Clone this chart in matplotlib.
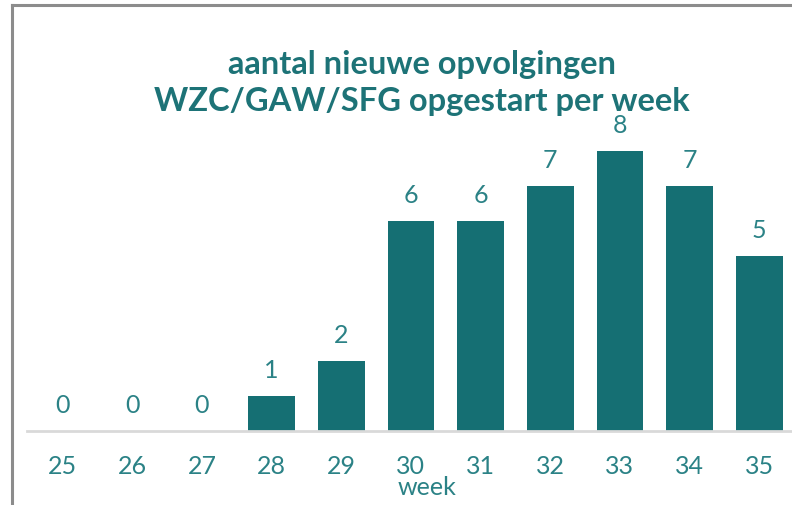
import matplotlib
matplotlib.use("Agg")
import matplotlib.pyplot as plt
from matplotlib.lines import Line2D

weeks = ["25", "26", "27", "28", "29", "30", "31", "32", "33", "34", "35"]
values = [0, 0, 0, 1, 2, 6, 6, 7, 8, 7, 5]
title = "aantal nieuwe opvolgingen\nWZC/GAW/SFG opgestart per week"
xlabel = "week"

bar_color = "#156f73"
text_color = "#2b8286"
title_color = "#1d7377"

plt.rcParams['font.family'] = ['Lato', 'DejaVu Sans']

W, H = 792, 505
fig = plt.figure(figsize=(W / 100, H / 100), dpi=100)
# axes: x from 27 to 792 px, baseline at y=431, top at y=116 (value 9)
ax = fig.add_axes([27 / W, (H - 431) / H, (792 - 27) / W, (431 - 116) / H])
x = list(range(len(weeks)))
ax.bar(x, values, width=0.67, color=bar_color, zorder=2)
ax.set_xlim(-0.51, 10.47)
ax.set_ylim(0, 9)
for s in ["top", "right", "left"]:
    ax.spines[s].set_visible(False)
ax.spines["bottom"].set_color("#d9d9d9")
ax.spines["bottom"].set_linewidth(2)
ax.spines["bottom"].set_zorder(3)
ax.set_yticks([])
ax.set_xticks(x)
ax.set_xticklabels(weeks, fontsize=18, color=text_color)
ax.tick_params(axis="x", length=0, pad=17)
for xi, v in zip(x, values):
    ax.annotate(str(v), (xi, v), xytext=(0, 10), textcoords="offset points",
                ha="center", va="bottom", fontsize=18, color=text_color)
ax.set_xlabel(xlabel, fontsize=18, color=text_color, labelpad=-1)
ax.xaxis.label.set_x((427 - 27) / (792 - 27))

fig.text(422 / W, 1 - 83 / H, title, ha="center", va="center", fontsize=23.5,
         fontweight="bold", color=title_color, linespacing=1.3)

# outer border lines (top and left)
fig.add_artist(Line2D([12 / W, 1], [1 - 5 / H, 1 - 5 / H], color="#8c8c8c", lw=2.2,
                      transform=fig.transFigure))
fig.add_artist(Line2D([12 / W, 12 / W], [0, 1 - 5 / H], color="#8c8c8c", lw=2.2,
                      transform=fig.transFigure))

fig.savefig("out.png", dpi=100)
